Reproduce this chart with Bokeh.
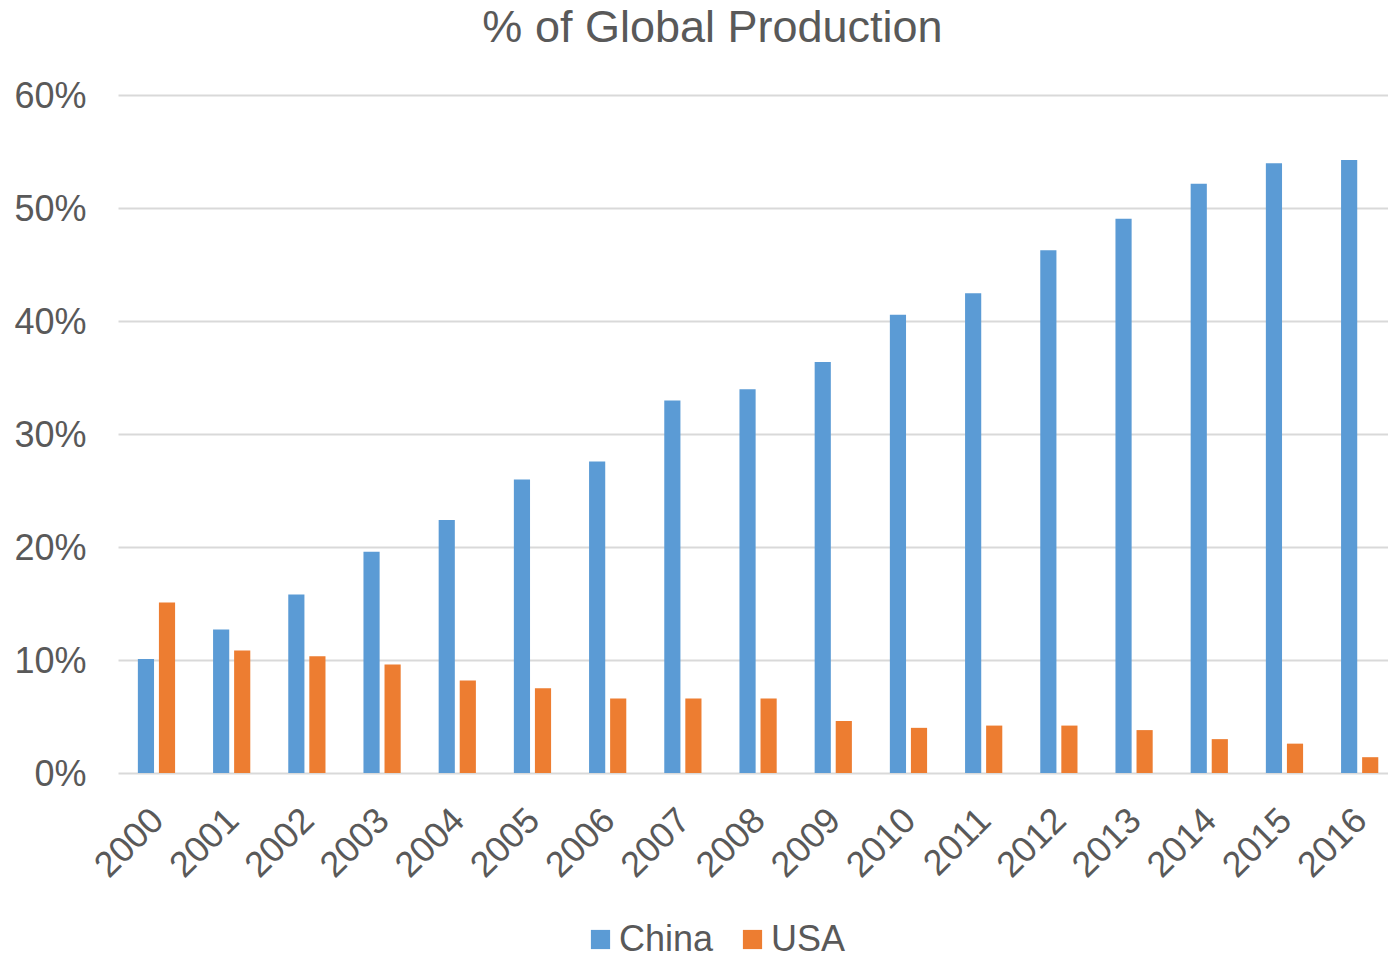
from bokeh.plotting import figure
from bokeh.models import (Range1d, FixedTicker, PrintfTickFormatter, Legend,
                          LegendItem, Label, ColumnDataSource)
from bokeh.embed import file_html
from bokeh.resources import INLINE

# Share of global production (%) by year
years = ["2000", "2001", "2002", "2003", "2004", "2005", "2006", "2007", "2008",
         "2009", "2010", "2011", "2012", "2013", "2014", "2015", "2016"]
china = [10.1, 12.7, 15.8, 19.6, 22.4, 26.0, 27.6, 33.0, 34.0,
         36.4, 40.6, 42.5, 46.3, 49.1, 52.2, 54.0, 54.3]
usa = [15.1, 10.85, 10.35, 9.6, 8.2, 7.5, 6.6, 6.6, 6.6,
       4.6, 4.0, 4.2, 4.2, 3.8, 3.0, 2.6, 1.4]
y_ticks = [0, 10, 20, 30, 40, 50, 60]

BLUE = "#5B9BD5"
ORANGE = "#ED7D31"
GREY_TEXT = "#595959"
GRID = "#D9D9D9"
FONT = "Liberation Sans"

# The frame covers the whole canvas; heading, axis labels and legend sit inside it.
FRAME_W, FRAME_H = 1388, 958
PX_PER_PCT = 11.29
PX_PER_YEAR = 75.2
ZERO_PX = 772.5                      # pixel row of the 0% line
PLOT_LEFT_PX = 118                   # left edge of the bar area
Y_TOP = ZERO_PX / PX_PER_PCT
Y_BOTTOM = -(FRAME_H - ZERO_PX) / PX_PER_PCT
X_LEFT = -0.505
X_START = X_LEFT - PLOT_LEFT_PX / PX_PER_YEAR
X_END = X_START + FRAME_W / PX_PER_YEAR
X_AXIS_AT = -3.5 / PX_PER_PCT

idx = list(range(len(years)))
src = ColumnDataSource(dict(
    pos=idx,
    china_x=[i - 0.14 for i in idx],
    usa_x=[i + 0.14 for i in idx],
    china=china,
    usa=usa,
))

p = figure(frame_width=FRAME_W, frame_height=FRAME_H,
           output_backend="svg", toolbar_location=None,
           x_range=Range1d(X_START, X_END), y_range=Range1d(Y_BOTTOM, Y_TOP),
           min_border_left=0, min_border_right=0, min_border_top=0,
           min_border_bottom=0)
p.outline_line_color = None
p.background_fill_color = "white"
p.border_fill_color = "white"

r_china = p.vbar(x="china_x", top="china", width=0.215, source=src,
                 fill_color=BLUE, line_color=None)
r_usa = p.vbar(x="usa_x", top="usa", width=0.215, source=src,
               fill_color=ORANGE, line_color=None)

# axes, pinned to the edges of the bar area
p.xgrid.visible = False
p.ygrid.grid_line_color = GRID
p.ygrid.grid_line_width = 2
p.ygrid.cross_bounds = (X_LEFT, X_END)
p.yaxis.ticker = FixedTicker(ticks=y_ticks)
p.yaxis.formatter = PrintfTickFormatter(format="%d%%")
p.yaxis.fixed_location = X_LEFT
p.xaxis.ticker = FixedTicker(ticks=idx)
p.xaxis.major_label_overrides = {i: y for i, y in zip(idx, years)}
p.xaxis.major_label_orientation = 0.785398
p.xaxis.fixed_location = X_AXIS_AT

for ax in (p.xaxis[0], p.yaxis[0]):
    ax.axis_line_color = None
    ax.major_tick_line_color = None
    ax.minor_tick_line_color = None
    ax.major_tick_out = 0
    ax.major_tick_in = 0
    ax.major_label_text_font = FONT
    ax.major_label_text_font_size = "36px"
    ax.major_label_text_color = GREY_TEXT
p.yaxis.major_label_standoff = 32
p.xaxis.major_label_standoff = 37

# heading, in screen pixels from the frame's bottom-left corner
title = Label(x=712, y=FRAME_H - 26, x_units="screen", y_units="screen",
              text="% of Global Production", text_align="center",
              text_baseline="alphabetic", text_font=FONT,
              text_font_size="45px", text_color=GREY_TEXT)
p.add_layout(title)

# legend under the year labels
legend = Legend(items=[LegendItem(label="China", renderers=[r_china]),
                       LegendItem(label="USA", renderers=[r_usa])],
                orientation="horizontal", location=(588, -2),
                label_text_font=FONT, label_text_font_size="36px",
                label_text_color=GREY_TEXT, glyph_width=24, glyph_height=24,
                label_standoff=7, spacing=27, border_line_color=None,
                background_fill_alpha=0, padding=0, margin=0)
p.add_layout(legend)

open("out.html", "w").write(file_html(p, INLINE))
